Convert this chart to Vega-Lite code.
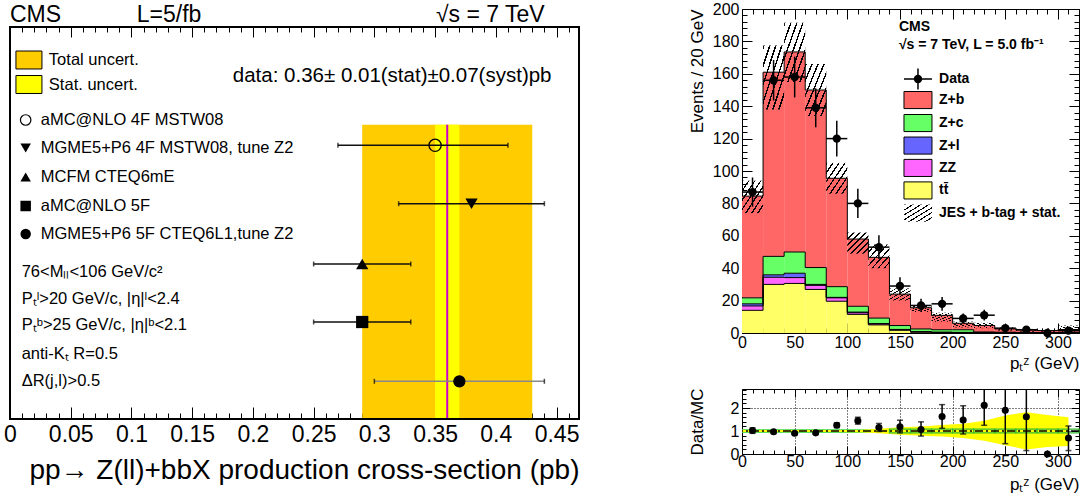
{
 "$schema": "https://vega.github.io/schema/vega-lite/v6.json",
 "padding": {"left": 3, "top": 0, "right": 0, "bottom": 0},
 "background": "white",
 "config": {
  "font": "Liberation Sans",
  "view": {"stroke": "black", "strokeWidth": 1},
  "axis": {"domain": false, "grid": false, "tickColor": "black", "tickWidth": 1, "labelColor": "black", "titleColor": "black", "labelFont": "Liberation Sans", "titleFont": "Liberation Sans", "titleFontWeight": "normal", "labelFlush": false, "labelOverlap": false, "labelBound": false},
  "text": {"font": "Liberation Sans", "baseline": "middle", "align": "left", "color": "black"}
 },
 "datasets": {
  "xsec": [{"xs": 0.36, "tlo": 0.29, "thi": 0.43, "slo": 0.35, "shi": 0.37}],
  "models": [
   {"name": "aMC4F", "val": 0.35, "lo": 0.27, "hi": 0.41, "yv": 118.3},
   {"name": "MG4F", "val": 0.38, "lo": 0.32, "hi": 0.44, "yv": 176.7},
   {"name": "MCFM", "val": 0.29, "lo": 0.25, "hi": 0.33, "yv": 237},
   {"name": "aMC5F", "val": 0.29, "lo": 0.25, "hi": 0.33, "yv": 295},
   {"name": "MG5F", "val": 0.37, "lo": 0.30, "hi": 0.44, "yv": 354.3}
  ],
  "leg": [
   {"name": "aMC4F", "label": "aMC@NLO 4F MSTW08", "ly": 93},
   {"name": "MG4F", "label": "MGME5+P6 4F MSTW08, tune Z2", "ly": 121},
   {"name": "MCFM", "label": "MCFM CTEQ6mE", "ly": 150},
   {"name": "aMC5F", "label": "aMC@NLO 5F", "ly": 179},
   {"name": "MG5F", "label": "MGME5+P6 5F CTEQ6L1,tune Z2", "ly": 207}
  ],
  "cuts": [
   {"t": "76<Mₗₗ<106 GeV/c²", "ly": 245},
   {"t": "Pₜˡ>20 GeV/c, |η|ˡ<2.4", "ly": 272},
   {"t": "Pₜᵇ>25 GeV/c, |η|ᵇ<2.1", "ly": 298},
   {"t": "anti-Kₜ R=0.5", "ly": 327},
   {"t": "ΔR(j,l)>0.5", "ly": 354}
  ],
  "boxes": [
   {"k": "Total uncert.", "c": "tot", "ly": 33},
   {"k": "Stat. uncert.", "c": "stat", "ly": 57.5}
  ],
  "mc": [
   {"lo":0,"hi":20,"p":"tt","o":0,"n":14},{"lo":0,"hi":20,"p":"ZZ","o":1,"n":2.7},{"lo":0,"hi":20,"p":"Zl","o":2,"n":1.3},{"lo":0,"hi":20,"p":"Zc","o":3,"n":3.7},{"lo":0,"hi":20,"p":"Zb","o":4,"n":62.8},
   {"lo":20,"hi":40,"p":"tt","o":0,"n":30},{"lo":20,"hi":40,"p":"ZZ","o":1,"n":4.4},{"lo":20,"hi":40,"p":"Zl","o":2,"n":1.5},{"lo":20,"hi":40,"p":"Zc","o":3,"n":11.4},{"lo":20,"hi":40,"p":"Zb","o":4,"n":113.7},
   {"lo":40,"hi":60,"p":"tt","o":0,"n":30.6},{"lo":40,"hi":60,"p":"ZZ","o":1,"n":3.6},{"lo":40,"hi":60,"p":"Zl","o":2,"n":2.7},{"lo":40,"hi":60,"p":"Zc","o":3,"n":13.1},{"lo":40,"hi":60,"p":"Zb","o":4,"n":123.5},
   {"lo":60,"hi":80,"p":"tt","o":0,"n":26.9},{"lo":60,"hi":80,"p":"ZZ","o":1,"n":2.5},{"lo":60,"hi":80,"p":"Zl","o":2,"n":0.6},{"lo":60,"hi":80,"p":"Zc","o":3,"n":10.4},{"lo":60,"hi":80,"p":"Zb","o":4,"n":109.6},
   {"lo":80,"hi":100,"p":"tt","o":0,"n":19.6},{"lo":80,"hi":100,"p":"ZZ","o":1,"n":2.1},{"lo":80,"hi":100,"p":"Zl","o":2,"n":0.3},{"lo":80,"hi":100,"p":"Zc","o":3,"n":6.6},{"lo":80,"hi":100,"p":"Zb","o":4,"n":66.9},
   {"lo":100,"hi":120,"p":"tt","o":0,"n":11.5},{"lo":100,"hi":120,"p":"ZZ","o":1,"n":1.0},{"lo":100,"hi":120,"p":"Zl","o":2,"n":0.4},{"lo":100,"hi":120,"p":"Zc","o":3,"n":3.6},{"lo":100,"hi":120,"p":"Zb","o":4,"n":41.5},
   {"lo":120,"hi":140,"p":"tt","o":0,"n":5},{"lo":120,"hi":140,"p":"ZZ","o":1,"n":0.6},{"lo":120,"hi":140,"p":"Zl","o":2,"n":0.2},{"lo":120,"hi":140,"p":"Zc","o":3,"n":3.4},{"lo":120,"hi":140,"p":"Zb","o":4,"n":37.5},
   {"lo":140,"hi":160,"p":"tt","o":0,"n":1.7},{"lo":140,"hi":160,"p":"ZZ","o":1,"n":0.3},{"lo":140,"hi":160,"p":"Zl","o":2,"n":0.2},{"lo":140,"hi":160,"p":"Zc","o":3,"n":2.4},{"lo":140,"hi":160,"p":"Zb","o":4,"n":19.4},
   {"lo":160,"hi":180,"p":"tt","o":0,"n":0.5},{"lo":160,"hi":180,"p":"ZZ","o":1,"n":0.2},{"lo":160,"hi":180,"p":"Zl","o":2,"n":0.1},{"lo":160,"hi":180,"p":"Zc","o":3,"n":1.7},{"lo":160,"hi":180,"p":"Zb","o":4,"n":13.1},
   {"lo":180,"hi":200,"p":"tt","o":0,"n":0.3},{"lo":180,"hi":200,"p":"ZZ","o":1,"n":0.1},{"lo":180,"hi":200,"p":"Zl","o":2,"n":0.1},{"lo":180,"hi":200,"p":"Zc","o":3,"n":1.5},{"lo":180,"hi":200,"p":"Zb","o":4,"n":8.9},
   {"lo":200,"hi":220,"p":"tt","o":0,"n":0.2},{"lo":200,"hi":220,"p":"ZZ","o":1,"n":0.1},{"lo":200,"hi":220,"p":"Zl","o":2,"n":0.1},{"lo":200,"hi":220,"p":"Zc","o":3,"n":1.6},{"lo":200,"hi":220,"p":"Zb","o":4,"n":4.0},
   {"lo":220,"hi":240,"p":"tt","o":0,"n":0.1},{"lo":220,"hi":240,"p":"ZZ","o":1,"n":0.1},{"lo":220,"hi":240,"p":"Zl","o":2,"n":0.05},{"lo":220,"hi":240,"p":"Zc","o":3,"n":0.4},{"lo":220,"hi":240,"p":"Zb","o":4,"n":4.0},
   {"lo":240,"hi":260,"p":"tt","o":0,"n":0.1},{"lo":240,"hi":260,"p":"ZZ","o":1,"n":0.05},{"lo":240,"hi":260,"p":"Zl","o":2,"n":0.05},{"lo":240,"hi":260,"p":"Zc","o":3,"n":0.3},{"lo":240,"hi":260,"p":"Zb","o":4,"n":2.0},
   {"lo":260,"hi":280,"p":"tt","o":0,"n":0.05},{"lo":260,"hi":280,"p":"ZZ","o":1,"n":0.05},{"lo":260,"hi":280,"p":"Zl","o":2,"n":0.02},{"lo":260,"hi":280,"p":"Zc","o":3,"n":0.2},{"lo":260,"hi":280,"p":"Zb","o":4,"n":1.6},
   {"lo":280,"hi":300,"p":"tt","o":0,"n":0.05},{"lo":280,"hi":300,"p":"ZZ","o":1,"n":0.05},{"lo":280,"hi":300,"p":"Zl","o":2,"n":0.02},{"lo":280,"hi":300,"p":"Zc","o":3,"n":0.2},{"lo":280,"hi":300,"p":"Zb","o":4,"n":1.2},
   {"lo":300,"hi":320,"p":"tt","o":0,"n":0.05},{"lo":300,"hi":320,"p":"ZZ","o":1,"n":0.05},{"lo":300,"hi":320,"p":"Zl","o":2,"n":0.02},{"lo":300,"hi":320,"p":"Zc","o":3,"n":0.3},{"lo":300,"hi":320,"p":"Zb","o":4,"n":1.7}
  ],
  "hatch": [
   {"lo":0,"hi":20,"a":74,"b":94},{"lo":20,"hi":40,"a":138,"b":177.5},{"lo":40,"hi":60,"a":155,"b":191.5},{"lo":60,"hi":80,"a":134,"b":166},
   {"lo":80,"hi":100,"a":86,"b":105},{"lo":100,"hi":120,"a":49,"b":62},{"lo":120,"hi":140,"a":40,"b":54.6},{"lo":140,"hi":160,"a":20,"b":27.5},
   {"lo":160,"hi":180,"a":13,"b":17},{"lo":180,"hi":200,"a":7,"b":12.5},{"lo":200,"hi":220,"a":3.5,"b":7},{"lo":220,"hi":240,"a":2.9,"b":6.3},
   {"lo":240,"hi":260,"a":1.5,"b":3.5},{"lo":260,"hi":280,"a":0.8,"b":2.5},{"lo":280,"hi":300,"a":0.8,"b":2.9},{"lo":300,"hi":320,"a":0.8,"b":4.6}
  ],
  "obs": [
   {"c":10,"lo":0,"hi":20,"v":87,"el":78,"eh":96},{"c":30,"lo":20,"hi":40,"v":156,"el":143.5,"eh":168.5},
   {"c":50,"lo":40,"hi":60,"v":158,"el":145.4,"eh":170.6},{"c":70,"lo":60,"hi":80,"v":139,"el":127,"eh":151},
   {"c":90,"lo":80,"hi":100,"v":120,"el":109,"eh":131},{"c":110,"lo":100,"hi":120,"v":80,"el":71,"eh":89},
   {"c":130,"lo":120,"hi":140,"v":53,"el":45.7,"eh":60.3},{"c":150,"lo":140,"hi":160,"v":29,"el":23.6,"eh":34.4},
   {"c":170,"lo":160,"hi":180,"v":17,"el":12.9,"eh":21.1},{"c":190,"lo":180,"hi":200,"v":18,"el":13.8,"eh":22.2},
   {"c":210,"lo":200,"hi":220,"v":9,"el":6,"eh":12},{"c":230,"lo":220,"hi":240,"v":11,"el":7.7,"eh":14.3},
   {"c":250,"lo":240,"hi":260,"v":3,"el":1.3,"eh":4.7},{"c":270,"lo":260,"hi":280,"v":2,"el":0.6,"eh":3.4},
   {"c":290,"lo":280,"hi":300,"v":0,"el":0,"eh":0},{"c":310,"lo":300,"hi":320,"v":1.5,"el":0.3,"eh":2.7}
  ],
  "mcleg": [
   {"k":"Data","ly":156.8},
   {"k":"Z+b","p":"Zb","ly":143.8},
   {"k":"Z+c","p":"Zc","ly":129.6},
   {"k":"Z+l","p":"Zl","ly":115.7},
   {"k":"ZZ","p":"ZZ","ly":101.9},
   {"k":"tt̄","p":"tt","ly":88},
   {"k":"JES + b-tag + stat.","ly":74}
  ],
  "ratio": [
   {"c":10,"r":1.02,"rl":0.9,"rh":1.14},{"c":30,"r":0.97,"rl":0.92,"rh":1.02},{"c":50,"r":0.9,"rl":0.85,"rh":0.95},
   {"c":70,"r":0.92,"rl":0.87,"rh":0.97},{"c":90,"r":1.25,"rl":1.15,"rh":1.36},{"c":110,"r":1.45,"rl":1.3,"rh":1.6},
   {"c":130,"r":1.15,"rl":0.98,"rh":1.33},{"c":150,"r":1.19,"rl":0.92,"rh":1.47},{"c":170,"r":1.07,"rl":0.78,"rh":1.4},
   {"c":190,"r":1.63,"rl":1.12,"rh":2.15},{"c":210,"r":1.48,"rl":0.87,"rh":2.1},{"c":230,"r":2.12,"rl":1.25,"rh":2.83},
   {"c":250,"r":1.9,"rl":0.45,"rh":2.83},{"c":270,"r":1.62,"rl":0.15,"rh":2.83},{"c":290,"r":0,"rl":0,"rh":0},
   {"c":310,"r":0.7,"rl":0.15,"rh":1.22}
  ],
  "band": [
   {"bx":0,"yl":0.96,"yh":1.04},{"bx":10,"yl":0.96,"yh":1.04},{"bx":30,"yl":0.96,"yh":1.04},{"bx":50,"yl":0.96,"yh":1.04},
   {"bx":70,"yl":0.96,"yh":1.04},{"bx":90,"yl":0.96,"yh":1.04},{"bx":110,"yl":0.95,"yh":1.05},{"bx":130,"yl":0.9,"yh":1.1},
   {"bx":150,"yl":0.84,"yh":1.16},{"bx":170,"yl":0.8,"yh":1.2},{"bx":190,"yl":0.76,"yh":1.26},{"bx":210,"yl":0.7,"yh":1.32},
   {"bx":230,"yl":0.58,"yh":1.45},{"bx":250,"yl":0.38,"yh":1.68},{"bx":270,"yl":0.2,"yh":1.82},{"bx":290,"yl":0.3,"yh":1.7},
   {"bx":310,"yl":0.35,"yh":1.6}
  ],
  "rbin": [
   {"lo":0,"hi":20,"gl":0.92,"gh":1.08},{"lo":20,"hi":40,"gl":0.92,"gh":1.08},{"lo":40,"hi":60,"gl":0.92,"gh":1.08},{"lo":60,"hi":80,"gl":0.92,"gh":1.08},
   {"lo":80,"hi":100,"gl":0.92,"gh":1.08},{"lo":100,"hi":120,"gl":0.92,"gh":1.08},{"lo":120,"hi":140,"gl":0.92,"gh":1.08},{"lo":140,"hi":160,"gl":0.92,"gh":1.08},
   {"lo":160,"hi":180,"gl":0.92,"gh":1.08},{"lo":180,"hi":200,"gl":0.92,"gh":1.08},{"lo":200,"hi":220,"gl":0.92,"gh":1.08},{"lo":220,"hi":240,"gl":0.92,"gh":1.08},
   {"lo":240,"hi":260,"gl":0.92,"gh":1.08},{"lo":260,"hi":280,"gl":0.92,"gh":1.08},{"lo":280,"hi":300,"gl":0.92,"gh":1.08},{"lo":300,"hi":320,"gl":0.92,"gh":1.08}
  ]
 },
 "bounds": "flush",
 "spacing": 163,
 "hconcat": [
  {
   "width": 569, "height": 410,
   "view": {"stroke": null},
   "resolve": {"axis": {"x": "independent"}},
   "layer": [
    {"data": {"name": "xsec"}, "mark": {"type": "rect", "color": "#ffcc00"},
     "encoding": {
      "x": {"field": "tlo", "type": "quantitative", "scale": {"domain": [0, 0.4685], "nice": false, "zero": false},
        "axis": {"orient": "bottom", "values": [0,0.01,0.02,0.03,0.04,0.05,0.06,0.07,0.08,0.09,0.1,0.11,0.12,0.13,0.14,0.15,0.16,0.17,0.18,0.19,0.2,0.21,0.22,0.23,0.24,0.25,0.26,0.27,0.28,0.29,0.3,0.31,0.32,0.33,0.34,0.35,0.36,0.37,0.38,0.39,0.4,0.41,0.42,0.43,0.44,0.45,0.46],
          "labelExpr": "round(datum.value*100) % 5 === 0 ? toString(round(datum.value*100)/100) : ''",
          "tickSize": {"condition": {"test": "round(datum.value*100) % 5 === 0", "value": -12}, "value": -6},
          "labelFontSize": 23, "labelPadding": 16.5, "title": "pp→ Z(ll)+bbX production cross-section (pb)", "titleFontSize": 28, "titleAnchor": "end", "titlePadding": 4}},
      "x2": {"field": "thi"},
      "y": {"datum": 97.7, "type": "quantitative", "scale": {"domain": [-18, 392], "reverse": true, "nice": false, "zero": false}, "axis": null},
      "y2": {"datum": 392}
     }},
    {"data": {"name": "xsec"}, "mark": {"type": "rect", "color": "#ffff00"},
     "encoding": {
      "x": {"field": "slo", "type": "quantitative",
        "axis": {"orient": "top", "offset": -18, "values": [0,0.01,0.02,0.03,0.04,0.05,0.06,0.07,0.08,0.09,0.1,0.11,0.12,0.13,0.14,0.15,0.16,0.17,0.18,0.19,0.2,0.21,0.22,0.23,0.24,0.25,0.26,0.27,0.28,0.29,0.3,0.31,0.32,0.33,0.34,0.35,0.36,0.37,0.38,0.39,0.4,0.41,0.42,0.43,0.44,0.45,0.46],
          "labels": false, "title": null,
          "tickSize": {"condition": {"test": "round(datum.value*100) % 5 === 0", "value": -10}, "value": -5}}},
      "x2": {"field": "shi"},
      "y": {"datum": 97.7, "type": "quantitative", "axis": null},
      "y2": {"datum": 392}
     }},
    {"data": {"name": "xsec"}, "mark": {"type": "rule", "color": "#cc00cc", "strokeWidth": 2},
     "encoding": {"x": {"field": "xs", "type": "quantitative", "axis": null}, "y": {"datum": 97.7, "type": "quantitative", "axis": null}, "y2": {"datum": 392}}},
    {"data": {"values": [{}]}, "mark": {"type": "rect", "fill": null, "fillOpacity": 0, "stroke": "black", "strokeWidth": 2},
     "encoding": {"x": {"datum": 0, "type": "quantitative", "axis": null}, "x2": {"datum": 0.4685}, "y": {"datum": 0, "type": "quantitative", "axis": null}, "y2": {"datum": 392}}},
    {"data": {"name": "models"}, "mark": {"type": "rule", "strokeWidth": 1.6},
     "encoding": {"x": {"field": "lo", "type": "quantitative", "axis": null}, "x2": {"field": "hi"}, "y": {"field": "yv", "type": "quantitative", "axis": null},
      "color": {"condition": {"test": "datum.name === 'MG5F'", "value": "#888888"}, "value": "#111111"}}},
    {"data": {"name": "models"}, "mark": {"type": "tick", "orient": "vertical", "size": 5, "thickness": 1.5, "color": "black"},
     "encoding": {"x": {"field": "lo", "type": "quantitative", "axis": null}, "y": {"field": "yv", "type": "quantitative", "axis": null}}},
    {"data": {"name": "models"}, "mark": {"type": "tick", "orient": "vertical", "size": 5, "thickness": 1.5, "color": "black"},
     "encoding": {"x": {"field": "hi", "type": "quantitative", "axis": null}, "y": {"field": "yv", "type": "quantitative", "axis": null}}},
    {"data": {"name": "models"}, "transform": [{"filter": "datum.name !== 'aMC4F'"}],
     "mark": {"type": "point", "filled": true, "color": "black", "size": 150, "opacity": 1},
     "encoding": {"x": {"field": "val", "type": "quantitative", "axis": null}, "y": {"field": "yv", "type": "quantitative", "axis": null},
      "shape": {"field": "name", "type": "nominal", "scale": {"domain": ["MG4F", "MCFM", "aMC5F", "MG5F"], "range": ["triangle-down", "triangle-up", "square", "circle"]}, "legend": null}}},
    {"data": {"name": "models"}, "transform": [{"filter": "datum.name === 'aMC4F'"}],
     "mark": {"type": "point", "shape": "circle", "filled": false, "stroke": "black", "strokeWidth": 1.3, "size": 150, "opacity": 1},
     "encoding": {"x": {"field": "val", "type": "quantitative", "axis": null}, "y": {"field": "yv", "type": "quantitative", "axis": null}}},
    {"data": {"name": "leg"}, "transform": [{"filter": "datum.name !== 'aMC4F'"}],
     "mark": {"type": "point", "filled": true, "color": "black", "size": 110, "opacity": 1},
     "encoding": {"x": {"datum": 0.0129, "type": "quantitative", "axis": null}, "y": {"field": "ly", "type": "quantitative", "axis": null},
      "shape": {"field": "name", "type": "nominal", "legend": null}}},
    {"data": {"name": "leg"}, "transform": [{"filter": "datum.name === 'aMC4F'"}],
     "mark": {"type": "point", "shape": "circle", "filled": false, "stroke": "black", "strokeWidth": 1.2, "size": 110, "opacity": 1},
     "encoding": {"x": {"datum": 0.0129, "type": "quantitative", "axis": null}, "y": {"field": "ly", "type": "quantitative", "axis": null}}},
    {"data": {"name": "leg"}, "mark": {"type": "text", "fontSize": 16.5},
     "encoding": {"x": {"datum": 0.0253, "type": "quantitative", "axis": null}, "y": {"field": "ly", "type": "quantitative", "axis": null}, "text": {"field": "label"}}},
    {"data": {"name": "cuts"}, "mark": {"type": "text", "fontSize": 16.5},
     "encoding": {"x": {"datum": 0.0096, "type": "quantitative", "axis": null}, "y": {"field": "ly", "type": "quantitative", "axis": null}, "text": {"field": "t"}}},
    {"data": {"name": "boxes"}, "mark": {"type": "point", "shape": "M-1,-0.69L1,-0.69L1,0.69L-1,0.69Z", "size": 676, "filled": true, "stroke": "black", "strokeWidth": 1, "opacity": 1},
     "encoding": {"x": {"datum": 0.0156, "type": "quantitative", "axis": null}, "y": {"field": "ly", "type": "quantitative", "axis": null},
      "fill": {"field": "c", "type": "nominal", "scale": {"domain": ["tot", "stat"], "range": ["#ffcc00", "#ffff00"]}, "legend": null}}},
    {"data": {"name": "boxes"}, "mark": {"type": "text", "fontSize": 16.5},
     "encoding": {"x": {"datum": 0.032, "type": "quantitative", "axis": null}, "y": {"field": "ly", "type": "quantitative", "axis": null}, "text": {"field": "k"}}},
    {"data": {"values": [{"t": "data: 0.36± 0.01(stat)±0.07(syst)pb"}]}, "mark": {"type": "text", "fontSize": 20.5},
     "encoding": {"x": {"datum": 0.1834, "type": "quantitative", "axis": null}, "y": {"datum": 49, "type": "quantitative", "axis": null}, "text": {"field": "t"}}},
    {"data": {"values": [{"t": "CMS"}]}, "mark": {"type": "text", "fontSize": 23},
     "encoding": {"x": {"datum": 0, "type": "quantitative", "axis": null}, "y": {"datum": -12, "type": "quantitative", "axis": null}, "text": {"field": "t"}}},
    {"data": {"values": [{"t": "L=5/fb"}]}, "mark": {"type": "text", "fontSize": 23},
     "encoding": {"x": {"datum": 0.1044, "type": "quantitative", "axis": null}, "y": {"datum": -12, "type": "quantitative", "axis": null}, "text": {"field": "t"}}},
    {"data": {"values": [{"t": "√s = 7 TeV"}]}, "mark": {"type": "text", "fontSize": 23},
     "encoding": {"x": {"datum": 0.3507, "type": "quantitative", "axis": null}, "y": {"datum": -12, "type": "quantitative", "axis": null}, "text": {"field": "t"}}}
   ]
  },
  {
   "bounds": "flush",
   "spacing": 56,
   "vconcat": [
    {
     "width": 337, "height": 324,
     "view": {"stroke": "black", "strokeWidth": 1},
     "resolve": {"axis": {"x": "independent", "y": "independent"}},
     "layer": [
      {"data": {"name": "mc"}, "transform": [{"stack": "n", "groupby": ["lo"], "sort": [{"field": "o", "order": "ascending"}], "as": ["s0", "s1"]}],
       "mark": {"type": "rect"},
       "encoding": {
        "x": {"field": "lo", "type": "quantitative", "scale": {"domain": [0, 320], "nice": false, "zero": false},
          "axis": {"orient": "bottom", "values": [0,10,20,30,40,50,60,70,80,90,100,110,120,130,140,150,160,170,180,190,200,210,220,230,240,250,260,270,280,290,300,310,320],
            "labelExpr": "datum.value % 50 === 0 ? datum.label : ''",
            "tickSize": {"condition": {"test": "datum.value % 50 === 0", "value": -10}, "value": -5},
            "labelFontSize": 16, "labelPadding": 11, "title": "pₜᶻ (GeV)", "titleFontSize": 17, "titleAnchor": "end", "titlePadding": 0}},
        "x2": {"field": "hi"},
        "y": {"field": "s0", "type": "quantitative", "scale": {"domain": [0, 200], "nice": false, "zero": false},
          "axis": {"orient": "left", "values": [0,4,8,12,16,20,24,28,32,36,40,44,48,52,56,60,64,68,72,76,80,84,88,92,96,100,104,108,112,116,120,124,128,132,136,140,144,148,152,156,160,164,168,172,176,180,184,188,192,196,200],
            "labelExpr": "datum.value % 20 === 0 ? datum.label : ''",
            "tickSize": {"condition": {"test": "datum.value % 20 === 0", "value": -10}, "value": -5},
            "labelFontSize": 16, "labelPadding": 13, "title": "Events / 20 GeV", "titleFontSize": 17, "titleAnchor": "end", "titlePadding": 6}},
        "y2": {"field": "s1"},
        "color": {"field": "p", "type": "nominal", "scale": {"domain": ["tt", "ZZ", "Zl", "Zc", "Zb"], "range": ["#ffff66", "#ff66ff", "#6666ff", "#66ff66", "#ff6666"]}, "legend": null}
       }},
      {"data": {"name": "mc"}, "transform": [{"stack": "n", "groupby": ["lo"], "sort": [{"field": "o", "order": "ascending"}], "as": ["s0", "s1"]}],
       "mark": {"type": "rule", "color": "black", "strokeWidth": 1},
       "encoding": {
        "x": {"field": "lo", "type": "quantitative",
          "axis": {"orient": "top", "values": [0,10,20,30,40,50,60,70,80,90,100,110,120,130,140,150,160,170,180,190,200,210,220,230,240,250,260,270,280,290,300,310,320],
            "labels": false, "title": null,
            "tickSize": {"condition": {"test": "datum.value % 50 === 0", "value": -10}, "value": -5}}},
        "x2": {"field": "hi"},
        "y": {"field": "s1", "type": "quantitative",
          "axis": {"orient": "right", "values": [0,4,8,12,16,20,24,28,32,36,40,44,48,52,56,60,64,68,72,76,80,84,88,92,96,100,104,108,112,116,120,124,128,132,136,140,144,148,152,156,160,164,168,172,176,180,184,188,192,196,200],
            "labels": false, "title": null,
            "tickSize": {"condition": {"test": "datum.value % 20 === 0", "value": -10}, "value": -5}}}
       }},
      {"data": {"name": "mc"}, "transform": [{"stack": "n", "groupby": ["lo"], "sort": [{"field": "o", "order": "ascending"}], "as": ["s0", "s1"]},
        {"window": [{"op": "lag", "field": "s1", "as": "prev"}], "groupby": ["p"], "sort": [{"field": "lo", "order": "ascending"}]}],
       "mark": {"type": "rule", "color": "black", "strokeWidth": 1},
       "encoding": {"x": {"field": "lo", "type": "quantitative", "axis": null}, "y": {"field": "prev", "type": "quantitative", "axis": null}, "y2": {"field": "s1"}}},
      {"data": {"name": "hatch"},
       "mark": {"type": "rect", "fill": {"gradient": "linear", "x1": 0, "y1": 0, "x2": 1, "y2": 1, "stops": [
         {"offset":0,"color":"black"},{"offset":0.036,"color":"black"},{"offset":0.036,"color":"rgba(0,0,0,0)"},{"offset":0.143,"color":"rgba(0,0,0,0)"},
         {"offset":0.143,"color":"black"},{"offset":0.179,"color":"black"},{"offset":0.179,"color":"rgba(0,0,0,0)"},{"offset":0.286,"color":"rgba(0,0,0,0)"},
         {"offset":0.286,"color":"black"},{"offset":0.321,"color":"black"},{"offset":0.321,"color":"rgba(0,0,0,0)"},{"offset":0.429,"color":"rgba(0,0,0,0)"},
         {"offset":0.429,"color":"black"},{"offset":0.464,"color":"black"},{"offset":0.464,"color":"rgba(0,0,0,0)"},{"offset":0.571,"color":"rgba(0,0,0,0)"},
         {"offset":0.571,"color":"black"},{"offset":0.607,"color":"black"},{"offset":0.607,"color":"rgba(0,0,0,0)"},{"offset":0.714,"color":"rgba(0,0,0,0)"},
         {"offset":0.714,"color":"black"},{"offset":0.75,"color":"black"},{"offset":0.75,"color":"rgba(0,0,0,0)"},{"offset":0.857,"color":"rgba(0,0,0,0)"},
         {"offset":0.857,"color":"black"},{"offset":0.893,"color":"black"},{"offset":0.893,"color":"rgba(0,0,0,0)"},{"offset":1,"color":"rgba(0,0,0,0)"}]}},
       "encoding": {"x": {"field": "lo", "type": "quantitative", "axis": null}, "x2": {"field": "hi"}, "y": {"field": "a", "type": "quantitative", "axis": null}, "y2": {"field": "b"}}},
      {"data": {"name": "obs"}, "mark": {"type": "rule", "color": "black", "strokeWidth": 1.5},
       "encoding": {"x": {"field": "c", "type": "quantitative", "axis": null}, "y": {"field": "el", "type": "quantitative", "axis": null}, "y2": {"field": "eh"}}},
      {"data": {"name": "obs"}, "mark": {"type": "rule", "color": "black", "strokeWidth": 1.5},
       "encoding": {"x": {"field": "lo", "type": "quantitative", "axis": null}, "x2": {"field": "hi"}, "y": {"field": "v", "type": "quantitative", "axis": null}}},
      {"data": {"name": "obs"}, "mark": {"type": "point", "shape": "circle", "filled": true, "color": "black", "size": 70, "opacity": 1},
       "encoding": {"x": {"field": "c", "type": "quantitative", "axis": null}, "y": {"field": "v", "type": "quantitative", "axis": null}}},
      {"data": {"values": [{"t": "CMS"}]}, "mark": {"type": "text", "fontSize": 14, "fontWeight": "bold"},
       "encoding": {"x": {"datum": 149, "type": "quantitative", "axis": null}, "y": {"datum": 189, "type": "quantitative", "axis": null}, "text": {"field": "t"}}},
      {"data": {"values": [{"t": "√s = 7 TeV, L = 5.0 fb⁻¹"}]}, "mark": {"type": "text", "fontSize": 14, "fontWeight": "bold"},
       "encoding": {"x": {"datum": 149, "type": "quantitative", "axis": null}, "y": {"datum": 177.8, "type": "quantitative", "axis": null}, "text": {"field": "t"}}},
      {"data": {"name": "mcleg"}, "transform": [{"filter": "isValid(datum.p)"}],
       "mark": {"type": "point", "shape": "M-1,-0.61L1,-0.61L1,0.61L-1,0.61Z", "size": 784, "filled": true, "stroke": "black", "strokeWidth": 1, "opacity": 1},
       "encoding": {"x": {"datum": 167.1, "type": "quantitative", "axis": null}, "y": {"field": "ly", "type": "quantitative", "axis": null}, "color": {"field": "p", "type": "nominal", "legend": null}}},
      {"data": {"values": [{"ly": 74}]},
       "mark": {"type": "point", "shape": "M-1,-0.61L1,-0.61L1,0.61L-1,0.61Z", "size": 784, "filled": true, "strokeWidth": 0, "opacity": 1,
        "fill": {"gradient": "linear", "x1": 0, "y1": 0, "x2": 1, "y2": 1, "stops": [
         {"offset":0,"color":"black"},{"offset":0.036,"color":"black"},{"offset":0.036,"color":"rgba(0,0,0,0)"},{"offset":0.143,"color":"rgba(0,0,0,0)"},
         {"offset":0.143,"color":"black"},{"offset":0.179,"color":"black"},{"offset":0.179,"color":"rgba(0,0,0,0)"},{"offset":0.286,"color":"rgba(0,0,0,0)"},
         {"offset":0.286,"color":"black"},{"offset":0.321,"color":"black"},{"offset":0.321,"color":"rgba(0,0,0,0)"},{"offset":0.429,"color":"rgba(0,0,0,0)"},
         {"offset":0.429,"color":"black"},{"offset":0.464,"color":"black"},{"offset":0.464,"color":"rgba(0,0,0,0)"},{"offset":0.571,"color":"rgba(0,0,0,0)"},
         {"offset":0.571,"color":"black"},{"offset":0.607,"color":"black"},{"offset":0.607,"color":"rgba(0,0,0,0)"},{"offset":0.714,"color":"rgba(0,0,0,0)"},
         {"offset":0.714,"color":"black"},{"offset":0.75,"color":"black"},{"offset":0.75,"color":"rgba(0,0,0,0)"},{"offset":0.857,"color":"rgba(0,0,0,0)"},
         {"offset":0.857,"color":"black"},{"offset":0.893,"color":"black"},{"offset":0.893,"color":"rgba(0,0,0,0)"},{"offset":1,"color":"rgba(0,0,0,0)"}]}},
       "encoding": {"x": {"datum": 167.1, "type": "quantitative", "axis": null}, "y": {"field": "ly", "type": "quantitative", "axis": null}}},
      {"data": {"values": [{"ly": 156.8}]},
       "mark": {"type": "point", "shape": "M-1,0L1,0M0,-0.75L0,0.75", "size": 784, "filled": false, "stroke": "black", "strokeWidth": 1.5, "opacity": 1},
       "encoding": {"x": {"datum": 167.1, "type": "quantitative", "axis": null}, "y": {"field": "ly", "type": "quantitative", "axis": null}}},
      {"data": {"values": [{"ly": 156.8}]},
       "mark": {"type": "point", "shape": "circle", "filled": true, "color": "black", "size": 70, "opacity": 1},
       "encoding": {"x": {"datum": 167.1, "type": "quantitative", "axis": null}, "y": {"field": "ly", "type": "quantitative", "axis": null}}},
      {"data": {"name": "mcleg"}, "mark": {"type": "text", "fontSize": 14, "fontWeight": "bold"},
       "encoding": {"x": {"datum": 187.1, "type": "quantitative", "axis": null}, "y": {"field": "ly", "type": "quantitative", "axis": null}, "text": {"field": "k"}}}
     ]
    },
    {
     "width": 337, "height": 65,
     "view": {"stroke": "black", "strokeWidth": 1},
     "resolve": {"axis": {"x": "independent", "y": "independent"}},
     "layer": [
      {"data": {"name": "rbin"}, "transform": [{"filter": "datum.lo < 140"}],
       "mark": {"type": "rect", "color": "#44dd44"},
       "encoding": {
        "x": {"field": "lo", "type": "quantitative", "scale": {"domain": [0, 320], "nice": false, "zero": false},
          "axis": {"orient": "bottom", "values": [0,10,20,30,40,50,60,70,80,90,100,110,120,130,140,150,160,170,180,190,200,210,220,230,240,250,260,270,280,290,300,310,320],
            "labelExpr": "datum.value % 50 === 0 ? datum.label : ''",
            "tickSize": {"condition": {"test": "datum.value % 50 === 0", "value": -8}, "value": -4},
            "labelFontSize": 16, "labelPadding": 7, "title": "pₜᶻ (GeV)", "titleFontSize": 17, "titleAnchor": "end", "titlePadding": 3,
            "grid": true, "gridColor": "black", "gridDash": [1, 2], "gridOpacity": {"condition": {"test": "datum.value % 50 === 0 && datum.value > 0 && datum.value < 320", "value": 1}, "value": 0}}},
        "x2": {"field": "hi"},
        "y": {"field": "gl", "type": "quantitative", "scale": {"domain": [0, 2.83], "nice": false, "zero": false},
          "axis": {"orient": "left", "values": [0,0.2,0.4,0.6,0.8,1,1.2,1.4,1.6,1.8,2,2.2,2.4,2.6,2.8],
            "labelExpr": "abs(datum.value - round(datum.value)) < 0.01 ? toString(round(datum.value)) : ''",
            "tickSize": {"condition": {"test": "abs(datum.value - round(datum.value)) < 0.01", "value": -8}, "value": -4},
            "labelFontSize": 16, "labelPadding": 11, "title": "Data/MC", "titleFontSize": 17, "titlePadding": 24,
            "grid": true, "gridColor": "black", "gridDash": [1, 2], "gridOpacity": {"condition": {"test": "abs(datum.value - round(datum.value)) < 0.01 && datum.value > 0.5", "value": 1}, "value": 0}}},
        "y2": {"field": "gh"}
       }},
      {"data": {"name": "band"}, "mark": {"type": "area", "color": "#ffff00", "opacity": 1},
       "encoding": {
        "x": {"field": "bx", "type": "quantitative",
          "axis": {"orient": "top", "values": [0,10,20,30,40,50,60,70,80,90,100,110,120,130,140,150,160,170,180,190,200,210,220,230,240,250,260,270,280,290,300,310,320],
            "labels": false, "title": null,
            "tickSize": {"condition": {"test": "datum.value % 50 === 0", "value": -8}, "value": -4}}},
        "y": {"field": "yl", "type": "quantitative",
          "axis": {"orient": "right", "values": [0,0.2,0.4,0.6,0.8,1,1.2,1.4,1.6,1.8,2,2.2,2.4,2.6,2.8],
            "labels": false, "title": null,
            "tickSize": {"condition": {"test": "abs(datum.value - round(datum.value)) < 0.01", "value": -8}, "value": -4}}},
        "y2": {"field": "yh"}
       }},
      {"data": {"name": "rbin"}, "transform": [{"filter": "datum.lo >= 140"}],
       "mark": {"type": "rect", "fill": null, "fillOpacity": 0, "stroke": "#33bb33", "strokeWidth": 1.2},
       "encoding": {"x": {"field": "lo", "type": "quantitative", "axis": null}, "x2": {"field": "hi"}, "y": {"field": "gl", "type": "quantitative", "axis": null}, "y2": {"field": "gh"}}},
      {"data": {"values": [{}]}, "mark": {"type": "rule", "color": "black", "strokeWidth": 1.5, "strokeDash": [8, 3, 2, 3]},
       "encoding": {"y": {"datum": 1, "type": "quantitative", "axis": null}}},
      {"data": {"name": "ratio"}, "mark": {"type": "rule", "color": "black", "strokeWidth": 1.5, "clip": true},
       "encoding": {"x": {"field": "c", "type": "quantitative", "axis": null}, "y": {"field": "rl", "type": "quantitative", "axis": null}, "y2": {"field": "rh"}}},
      {"data": {"name": "ratio"}, "mark": {"type": "tick", "orient": "horizontal", "size": 6, "thickness": 1.5, "color": "black", "clip": true},
       "encoding": {"x": {"field": "c", "type": "quantitative", "axis": null}, "y": {"field": "rl", "type": "quantitative", "axis": null}}},
      {"data": {"name": "ratio"}, "mark": {"type": "tick", "orient": "horizontal", "size": 6, "thickness": 1.5, "color": "black", "clip": true},
       "encoding": {"x": {"field": "c", "type": "quantitative", "axis": null}, "y": {"field": "rh", "type": "quantitative", "axis": null}}},
      {"data": {"name": "ratio"}, "mark": {"type": "point", "shape": "circle", "filled": true, "color": "black", "size": 50, "opacity": 1},
       "encoding": {"x": {"field": "c", "type": "quantitative", "axis": null}, "y": {"field": "r", "type": "quantitative", "axis": null}}}
     ]
    }
   ]
  }
 ]
}
